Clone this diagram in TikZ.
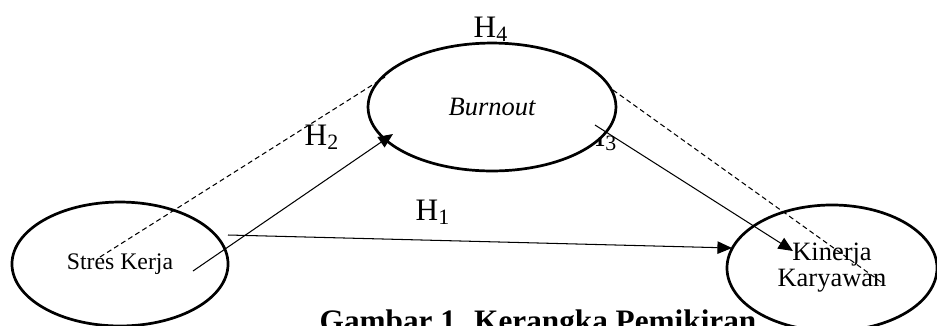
\documentclass[tikz,border=0pt]{standalone}
\usepackage{fontspec}
\setmainfont{Liberation Serif}
\usepackage{tikz}
\usetikzlibrary{arrows.meta, shapes.geometric, calc}
\tikzset{every node/.append style={align=center}}
\tikzset{
  oval/.style={ellipse, draw=black, line width=1.3pt, inner sep=0pt},
  hyp/.style={font=\fontsize{15}{18}\selectfont, inner sep=0pt, anchor=base},
  link/.style={line width=0.5pt, -{Triangle[length=7pt,width=6pt]}},
  relate/.style={line width=0.5pt, dash pattern=on 2.4pt off 1.6pt}
}

\begin{document}
\begin{tikzpicture}[x=0.48pt,y=-0.48pt]
\useasboundingbox (0,0) rectangle (937,325);

% ── Hypothesis labels (H3 sits partly behind Burnout) ─────────────────────────
\foreach \i/\x/\y in {1/433/220, 2/322/145, 3/600/146, 4/491/37} {
  \node[hyp] (h\i) at (\x,\y) {H\textsubscript{\i}};
}

% ── Variables ────────────────────────────────────────────────────────────────
\node[oval, minimum width=103.7pt, minimum height=59.5pt,
      font=\fontsize{11.4}{13}\selectfont] (stres) at (120,264) {Stres Kerja};
\node[oval, fill=white, minimum width=119pt, minimum height=61.4pt,
      font=\fontsize{12.7}{14}\selectfont\itshape] (burnout) at (492,107) {Burnout};
\node[oval, minimum width=100.8pt, minimum height=60.5pt,
      font=\fontsize{12.7}{12.5}\selectfont] (kinerja) at (832,268) {Kinerja\\Karyawan};

% ── Paths ────────────────────────────────────────────────────────────────────
\draw[link] ($(stres.center)+(73,7)$) -- ($(burnout.center)+(-99,27)$);
\draw[link] ($(stres.center)+(108,-29)$) -- ($(kinerja.center)+(-100,-20)$);
\draw[link] ($(burnout.center)+(103,18)$) -- ($(kinerja.center)+(-39,-17)$);

% Mediation (dashed)
\draw[relate] ($(stres.center)+(-20,-7)$) -- ($(burnout.center)+(-107,-30)$);
\draw[relate] ($(burnout.center)+(121,-17)$) -- ($(kinerja.center)+(52,16)$);

% ── Caption ──────────────────────────────────────────────────────────────────
\node[font=\fontsize{15}{18}\selectfont\bfseries, anchor=base, inner sep=0pt]
     (caption) at (538,331) {Gambar 1. Kerangka Pemikiran};

\end{tikzpicture}
\end{document}
